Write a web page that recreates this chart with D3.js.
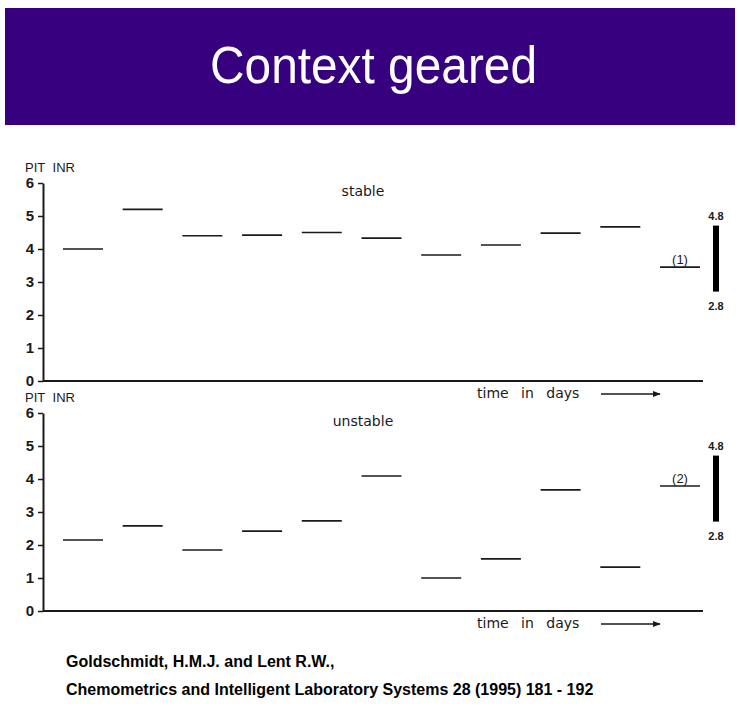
<!DOCTYPE html>
<html>
<head>
<meta charset="utf-8">
<script src="https://cdn.jsdelivr.net/npm/d3@7"></script>
<style>
  body { margin: 0; background: #fff; }
  text { font-family: "Liberation Sans", Arial, sans-serif; }
  .scan { font-family: "DejaVu Sans", sans-serif; }
</style>
</head>
<body>
<div id="chart"></div>
<script>
// Days shown on the x axis, plus the reference slot at the end
var days = [1, 2, 3, 4, 5, 6, 7, 8, 9, 10, 11];
var yTicks = [0, 1, 2, 3, 4, 5, 6];

// PIT INR per day (last value is the reference line)
var stableValues = [4.0, 5.2, 4.4, 4.42, 4.5, 4.33, 3.82, 4.12, 4.48, 4.67, 3.45];
var unstableValues = [2.15, 2.58, 1.85, 2.42, 2.73, 4.09, 1.0, 1.58, 3.67, 1.33, 3.79];
var rangeLimits = [2.8, 4.8];

var panels = [
  { name: "stable", values: stableValues, ref: "(1)", top: 183, bottom: 381 },
  { name: "unstable", values: unstableValues, ref: "(2)", top: 413, bottom: 611 }
];

var W = 739, H = 725;
var svg = d3.select("#chart").append("svg")
  .attr("width", W)
  .attr("height", H);

svg.append("rect").attr("width", W).attr("height", H).attr("fill", "#fff");

// Title banner
svg.append("rect")
  .attr("x", 5).attr("y", 8)
  .attr("width", 730).attr("height", 117)
  .attr("fill", "#37007e");

svg.append("text")
  .attr("x", 210).attr("y", 83)
  .attr("fill", "#fff")
  .style("font-size", "52px")
  .attr("textLength", 327)
  .attr("lengthAdjust", "spacingAndGlyphs")
  .text("Context geared");

var x = d3.scaleBand()
  .domain(days)
  .range([63, 700])
  .paddingInner(0.33)
  .paddingOuter(0);

var axisX = 43;
var ink = "#1a1a1a";

svg.append("defs").append("marker")
  .attr("id", "arrow")
  .attr("viewBox", "0 0 10 10")
  .attr("refX", 9).attr("refY", 5)
  .attr("markerWidth", 8).attr("markerHeight", 8)
  .attr("markerUnits", "userSpaceOnUse")
  .attr("orient", "auto")
  .append("path")
  .attr("d", "M0,1L10,5L0,9Z")
  .attr("fill", ink);

panels.forEach(function(p) {
  var y = d3.scaleLinear().domain([0, 6]).range([p.bottom, p.top]);
  var g = svg.append("g");

  // y axis
  var ya = g.append("g")
    .attr("transform", "translate(" + axisX + ",0)")
    .call(d3.axisLeft(y).tickValues(yTicks).tickFormat(d3.format("d"))
      .tickSize(5).tickPadding(4).tickSizeOuter(0));
  ya.select(".domain").attr("stroke", ink).attr("stroke-width", 2);
  ya.selectAll(".tick line").attr("stroke", ink).attr("stroke-width", 1.5);
  ya.selectAll(".tick text")
    .attr("fill", ink)
    .style("font-size", "15px")
    .style("font-weight", "bold")
    .style("font-family", "Liberation Sans, Arial, sans-serif");

  // x axis line
  g.append("line")
    .attr("x1", axisX).attr("x2", 703)
    .attr("y1", y(0)).attr("y2", y(0))
    .attr("stroke", ink).attr("stroke-width", 2);

  // PIT INR label
  g.append("text")
    .attr("x", 25).attr("y", p.top - 11)
    .attr("fill", ink)
    .style("font-size", "13px")
    .attr("word-spacing", "4px")
    .text("PIT INR");

  // panel name
  g.append("text")
    .attr("class", "scan")
    .attr("x", 363).attr("y", p.top + 13)
    .attr("text-anchor", "middle")
    .attr("fill", ink)
    .style("font-size", "14px")
    .text(p.name);

  // daily segments
  g.selectAll(".seg")
    .data(p.values)
    .enter().append("line")
    .attr("class", "seg")
    .attr("x1", function(d, i) { return x(days[i]); })
    .attr("x2", function(d, i) { return x(days[i]) + x.bandwidth(); })
    .attr("y1", function(d) { return y(d); })
    .attr("y2", function(d) { return y(d); })
    .attr("stroke", ink)
    .attr("stroke-width", 1.6);

  // reference label above the last segment
  var last = days[days.length - 1];
  g.append("text")
    .attr("x", x(last) + x.bandwidth() / 2)
    .attr("y", y(p.values[p.values.length - 1]) - 3)
    .attr("text-anchor", "middle")
    .attr("fill", ink)
    .style("font-size", "13px")
    .text(p.ref);

  // range bar
  var bx = x.range()[1] + 16;
  g.append("rect")
    .attr("x", bx - 3).attr("width", 6)
    .attr("y", y(rangeLimits[1]) + 3)
    .attr("height", y(rangeLimits[0]) - y(rangeLimits[1]))
    .attr("fill", "#000");

  g.selectAll(".lim")
    .data(rangeLimits)
    .enter().append("text")
    .attr("class", "lim")
    .attr("x", bx)
    .attr("y", function(d, i) { return i === 1 ? y(d) - 3 : y(d) + 21; })
    .attr("text-anchor", "middle")
    .attr("fill", ink)
    .style("font-size", "11px")
    .style("font-weight", "bold")
    .text(function(d) { return d3.format(".1f")(d); });

  // time in days
  g.append("text")
    .attr("class", "scan")
    .attr("x", 477).attr("y", y(0) + 17)
    .attr("fill", ink)
    .style("font-size", "14px")
    .attr("word-spacing", "8px")
    .text("time in days");

  g.append("line")
    .attr("x1", 601).attr("x2", 660)
    .attr("y1", y(0) + 13).attr("y2", y(0) + 13)
    .attr("stroke", ink).attr("stroke-width", 1.3)
    .attr("marker-end", "url(#arrow)");
});

// citation
svg.append("text")
  .attr("x", 66).attr("y", 667)
  .attr("fill", "#000")
  .style("font-size", "16px")
  .style("font-weight", "bold")
  .text("Goldschmidt, H.M.J. and Lent R.W.,");

svg.append("text")
  .attr("x", 66).attr("y", 695)
  .attr("fill", "#000")
  .style("font-size", "16px")
  .style("font-weight", "bold")
  .text("Chemometrics and Intelligent Laboratory Systems 28 (1995) 181 - 192");
</script>
</body>
</html>
